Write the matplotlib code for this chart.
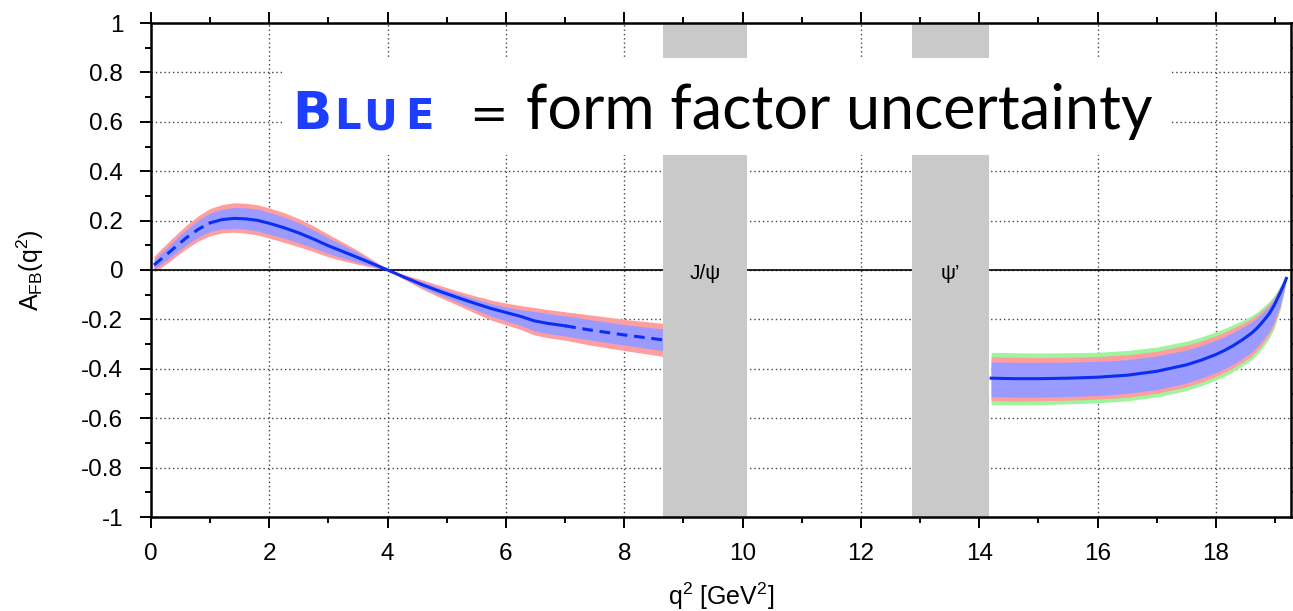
import matplotlib
matplotlib.use("Agg")
import matplotlib.pyplot as plt
from matplotlib.patches import Rectangle
from matplotlib.ticker import MultipleLocator
import numpy as np

plt.rcParams['font.family'] = ['Liberation Sans', 'DejaVu Sans']
plt.rcParams['mathtext.fontset'] = 'custom'
plt.rcParams['mathtext.rm'] = 'Liberation Sans'
plt.rcParams['mathtext.it'] = 'Liberation Sans:italic'
plt.rcParams['mathtext.bf'] = 'Liberation Sans:bold'

# --- A_FB below the J/psi (q^2 in GeV^2) ---
q_low = [0.05, 0.15, 0.3, 0.45, 0.6, 0.8, 1.0, 1.2, 1.4, 1.6, 1.8, 2.0, 2.25, 2.5,
         2.75, 3.0, 3.25, 3.5, 3.75, 4.0, 4.3, 4.6, 4.9, 5.2, 5.5, 5.75, 6.0, 6.25,
         6.48, 6.7, 7.0, 7.4, 8.0, 8.66]
afb_low = [0.020, 0.040, 0.070, 0.101, 0.131, 0.165, 0.191, 0.204, 0.209, 0.207,
           0.201, 0.189, 0.171, 0.150, 0.125, 0.098, 0.074, 0.050, 0.025, 0.000,
           -0.031, -0.061, -0.088, -0.113, -0.137, -0.156, -0.172, -0.188, -0.206,
           -0.216, -0.226, -0.242, -0.263, -0.283]
# band half-widths above / below the central value
blue_up_low = [0.020, 0.024, 0.028, 0.031, 0.033, 0.037, 0.040, 0.042, 0.044, 0.045,
               0.045, 0.044, 0.043, 0.041, 0.037, 0.032, 0.026, 0.019, 0.011, 0.001,
               0.007, 0.012, 0.014, 0.016, 0.018, 0.020, 0.022, 0.027, 0.038, 0.040,
               0.041, 0.042, 0.042, 0.044]
blue_dn_low = [0.016, 0.020, 0.024, 0.027, 0.029, 0.032, 0.035, 0.038, 0.040, 0.042,
               0.043, 0.044, 0.042, 0.040, 0.036, 0.031, 0.026, 0.019, 0.010, 0.001,
               0.006, 0.011, 0.015, 0.019, 0.026, 0.031, 0.034, 0.037, 0.040, 0.041,
               0.041, 0.041, 0.041, 0.044]
red_up_low = [0.035, 0.040, 0.045, 0.048, 0.051, 0.055, 0.058, 0.061, 0.063, 0.063,
              0.063, 0.062, 0.061, 0.058, 0.053, 0.046, 0.038, 0.028, 0.016, 0.002,
              0.011, 0.020, 0.024, 0.027, 0.031, 0.034, 0.038, 0.044, 0.054, 0.056,
              0.057, 0.061, 0.063, 0.067]
red_dn_low = [0.028, 0.033, 0.038, 0.041, 0.044, 0.048, 0.052, 0.054, 0.056, 0.058,
              0.059, 0.060, 0.059, 0.056, 0.051, 0.045, 0.037, 0.027, 0.015, 0.002,
              0.010, 0.018, 0.025, 0.031, 0.040, 0.047, 0.050, 0.053, 0.057, 0.058,
              0.058, 0.061, 0.063, 0.067]
DASHED_BELOW = 1.0   # central curve dashed for q^2 < 1
DASHED_ABOVE = 7.0   # and again for q^2 > 7

# --- A_FB above the psi(2S) ---
q_high = [14.2, 14.6, 15.0, 15.5, 16.0, 16.5, 17.0, 17.5, 17.75, 18.0, 18.15, 18.3,
          18.45, 18.6, 18.7, 18.8, 18.9, 18.98, 19.03, 19.09, 19.14, 19.19]
afb_high = [-0.438, -0.440, -0.440, -0.438, -0.434, -0.426, -0.410, -0.384, -0.365,
            -0.342, -0.325, -0.305, -0.282, -0.256, -0.234, -0.207, -0.177, -0.145,
            -0.120, -0.090, -0.063, -0.034]
blue_up_high = [0.066, 0.066, 0.066, 0.065, 0.064, 0.063, 0.062, 0.060, 0.059, 0.058,
                0.056, 0.054, 0.050, 0.045, 0.041, 0.037, 0.031, 0.026, 0.022, 0.017,
                0.009, 0.001]
blue_dn_high = [0.075, 0.075, 0.075, 0.074, 0.074, 0.074, 0.074, 0.074, 0.073, 0.073,
                0.074, 0.075, 0.076, 0.077, 0.076, 0.074, 0.071, 0.067, 0.058, 0.048,
                0.028, 0.004]
red_up_high = [0.087, 0.087, 0.086, 0.085, 0.084, 0.083, 0.081, 0.080, 0.078, 0.076,
               0.074, 0.071, 0.065, 0.059, 0.054, 0.048, 0.041, 0.034, 0.028, 0.022,
               0.012, 0.002]
red_dn_high = [0.091, 0.091, 0.090, 0.089, 0.089, 0.089, 0.089, 0.089, 0.089, 0.089,
               0.089, 0.090, 0.091, 0.093, 0.091, 0.089, 0.085, 0.081, 0.071, 0.058,
               0.034, 0.004]
green_up_high = [0.105, 0.105, 0.104, 0.103, 0.101, 0.100, 0.098, 0.096, 0.094, 0.092,
                 0.089, 0.085, 0.078, 0.071, 0.065, 0.058, 0.050, 0.041, 0.034, 0.027,
                 0.015, 0.002]
green_dn_high = [0.106, 0.106, 0.105, 0.104, 0.104, 0.104, 0.104, 0.104, 0.104, 0.103,
                 0.104, 0.105, 0.106, 0.108, 0.106, 0.104, 0.100, 0.094, 0.082, 0.067,
                 0.040, 0.005]

# charmonium vetoes
vetoes = [(8.66, 10.07, 'J/\u03c8'), (12.86, 14.17, '\u03c8\u2019')]

BLUE_FILL = '#9b9bff'
RED_FILL = '#ff9e9e'
GREEN_FILL = '#9ef59e'
LINE = '#0a2ff2'
GRAY = '#c9c9c9'

W, H = 1293, 611
fig = plt.figure(figsize=(W / 100, H / 100), dpi=100)
ax = fig.add_axes([151 / W, 1 - 517 / H, (1290.5 - 151) / W, (517 - 23) / H])
ax.set_xlim(0, 19.26)
ax.set_ylim(-1, 1)


def band(q, mid, up, dn, color):
    q = np.asarray(q)
    mid = np.asarray(mid)
    ax.fill_between(q, mid - np.asarray(dn), mid + np.asarray(up),
                    color=color, lw=0, zorder=1)


band(q_high, afb_high, green_up_high, green_dn_high, GREEN_FILL)
band(q_high, afb_high, red_up_high, red_dn_high, RED_FILL)
band(q_high, afb_high, blue_up_high, blue_dn_high, BLUE_FILL)
band(q_low, afb_low, red_up_low, red_dn_low, RED_FILL)
band(q_low, afb_low, blue_up_low, blue_dn_low, BLUE_FILL)

ax.axhline(0, color='black', lw=1.2, zorder=2)

ql = np.asarray(q_low)
al = np.asarray(afb_low)
dash = (0, (3.5, 2.2))
first = ql <= DASHED_BELOW
mid = (ql >= DASHED_BELOW) & (ql <= DASHED_ABOVE)
last = ql >= DASHED_ABOVE
ax.plot(ql[first], al[first], color=LINE, lw=2.2, ls=dash, zorder=2.5)
ax.plot(ql[mid], al[mid], color=LINE, lw=2.2, zorder=2.5, solid_joinstyle='round')
ax.plot(ql[last], al[last], color=LINE, lw=2.2, ls=dash, zorder=2.5)
ax.plot(q_high, afb_high, color=LINE, lw=2.2, zorder=2.5, solid_joinstyle='round')

for lo, hi, name in vetoes:
    ax.axvspan(lo, hi, color=GRAY, lw=0, zorder=3)
    ax.text((lo + hi) / 2, -0.035, name, ha='center', va='baseline',
            fontsize=15, zorder=6)

# white panel behind the headline
ax.add_patch(Rectangle((2.215, 0.466), 15.0, 0.392, facecolor='white',
                       edgecolor='none', zorder=4))

# grid, ticks, spines
ax.xaxis.set_major_locator(MultipleLocator(2))
ax.xaxis.set_minor_locator(MultipleLocator(1))
ax.yaxis.set_major_locator(MultipleLocator(0.2))
ax.yaxis.set_minor_locator(MultipleLocator(0.1))
ax.set_axisbelow(True)
ax.grid(which='major', color='#444444', lw=1.0, ls=(0, (1, 2.1)))
ax.tick_params(which='both', direction='out', top=True, right=True, width=1.4)
ax.tick_params(which='major', length=8)
ax.tick_params(which='minor', length=4)
ax.tick_params(axis='x', labelsize=17.5, pad=11)
ax.tick_params(axis='y', labelsize=17.5, pad=12)
for s in ax.spines.values():
    s.set_linewidth(1.8)
    s.set_zorder(10)

ax.set_xticks(np.arange(0, 19, 2))
ax.set_xticklabels([str(v) for v in range(0, 19, 2)])
yt = np.round(np.arange(-1, 1.01, 0.2), 1)
ax.set_yticks(yt)
ax.set_yticklabels(['0' if v == 0 else ('%g' % v) for v in yt])

ax.set_ylabel(r'A$_\mathregular{FB}$(q$^\mathregular{2}$)', fontsize=18)
ax.yaxis.set_label_coords(-0.092, 0.5)
ax.set_xlabel(r'q$^\mathregular{2}$ [GeV$^\mathregular{2}$]', fontsize=18)
ax.xaxis.set_label_coords(0.5, -0.128)

# headline: small-caps "Blue" then the explanation
title_blue = '#1d3dff'
for cx, ch, size in [(312, 'B', 37), (347, 'L', 30), (380, 'U', 30), (419, 'E', 30)]:
    fig.text(cx / W, 1 - 129 / H, ch, ha='center', va='baseline', fontsize=size,
             fontweight='bold', color=title_blue, family=['DejaVu Sans'], zorder=7)
fig.text(488 / W, 1 - 129 / H, '=', ha='center', va='baseline', fontsize=33,
         family=['DejaVu Sans'], zorder=7)
fig.text(526 / W, 1 - 129 / H, 'form factor uncertainty', ha='left', va='baseline',
         fontsize=44, family=['Lato', 'DejaVu Sans'], zorder=7)

fig.savefig('out.png', dpi=100)
